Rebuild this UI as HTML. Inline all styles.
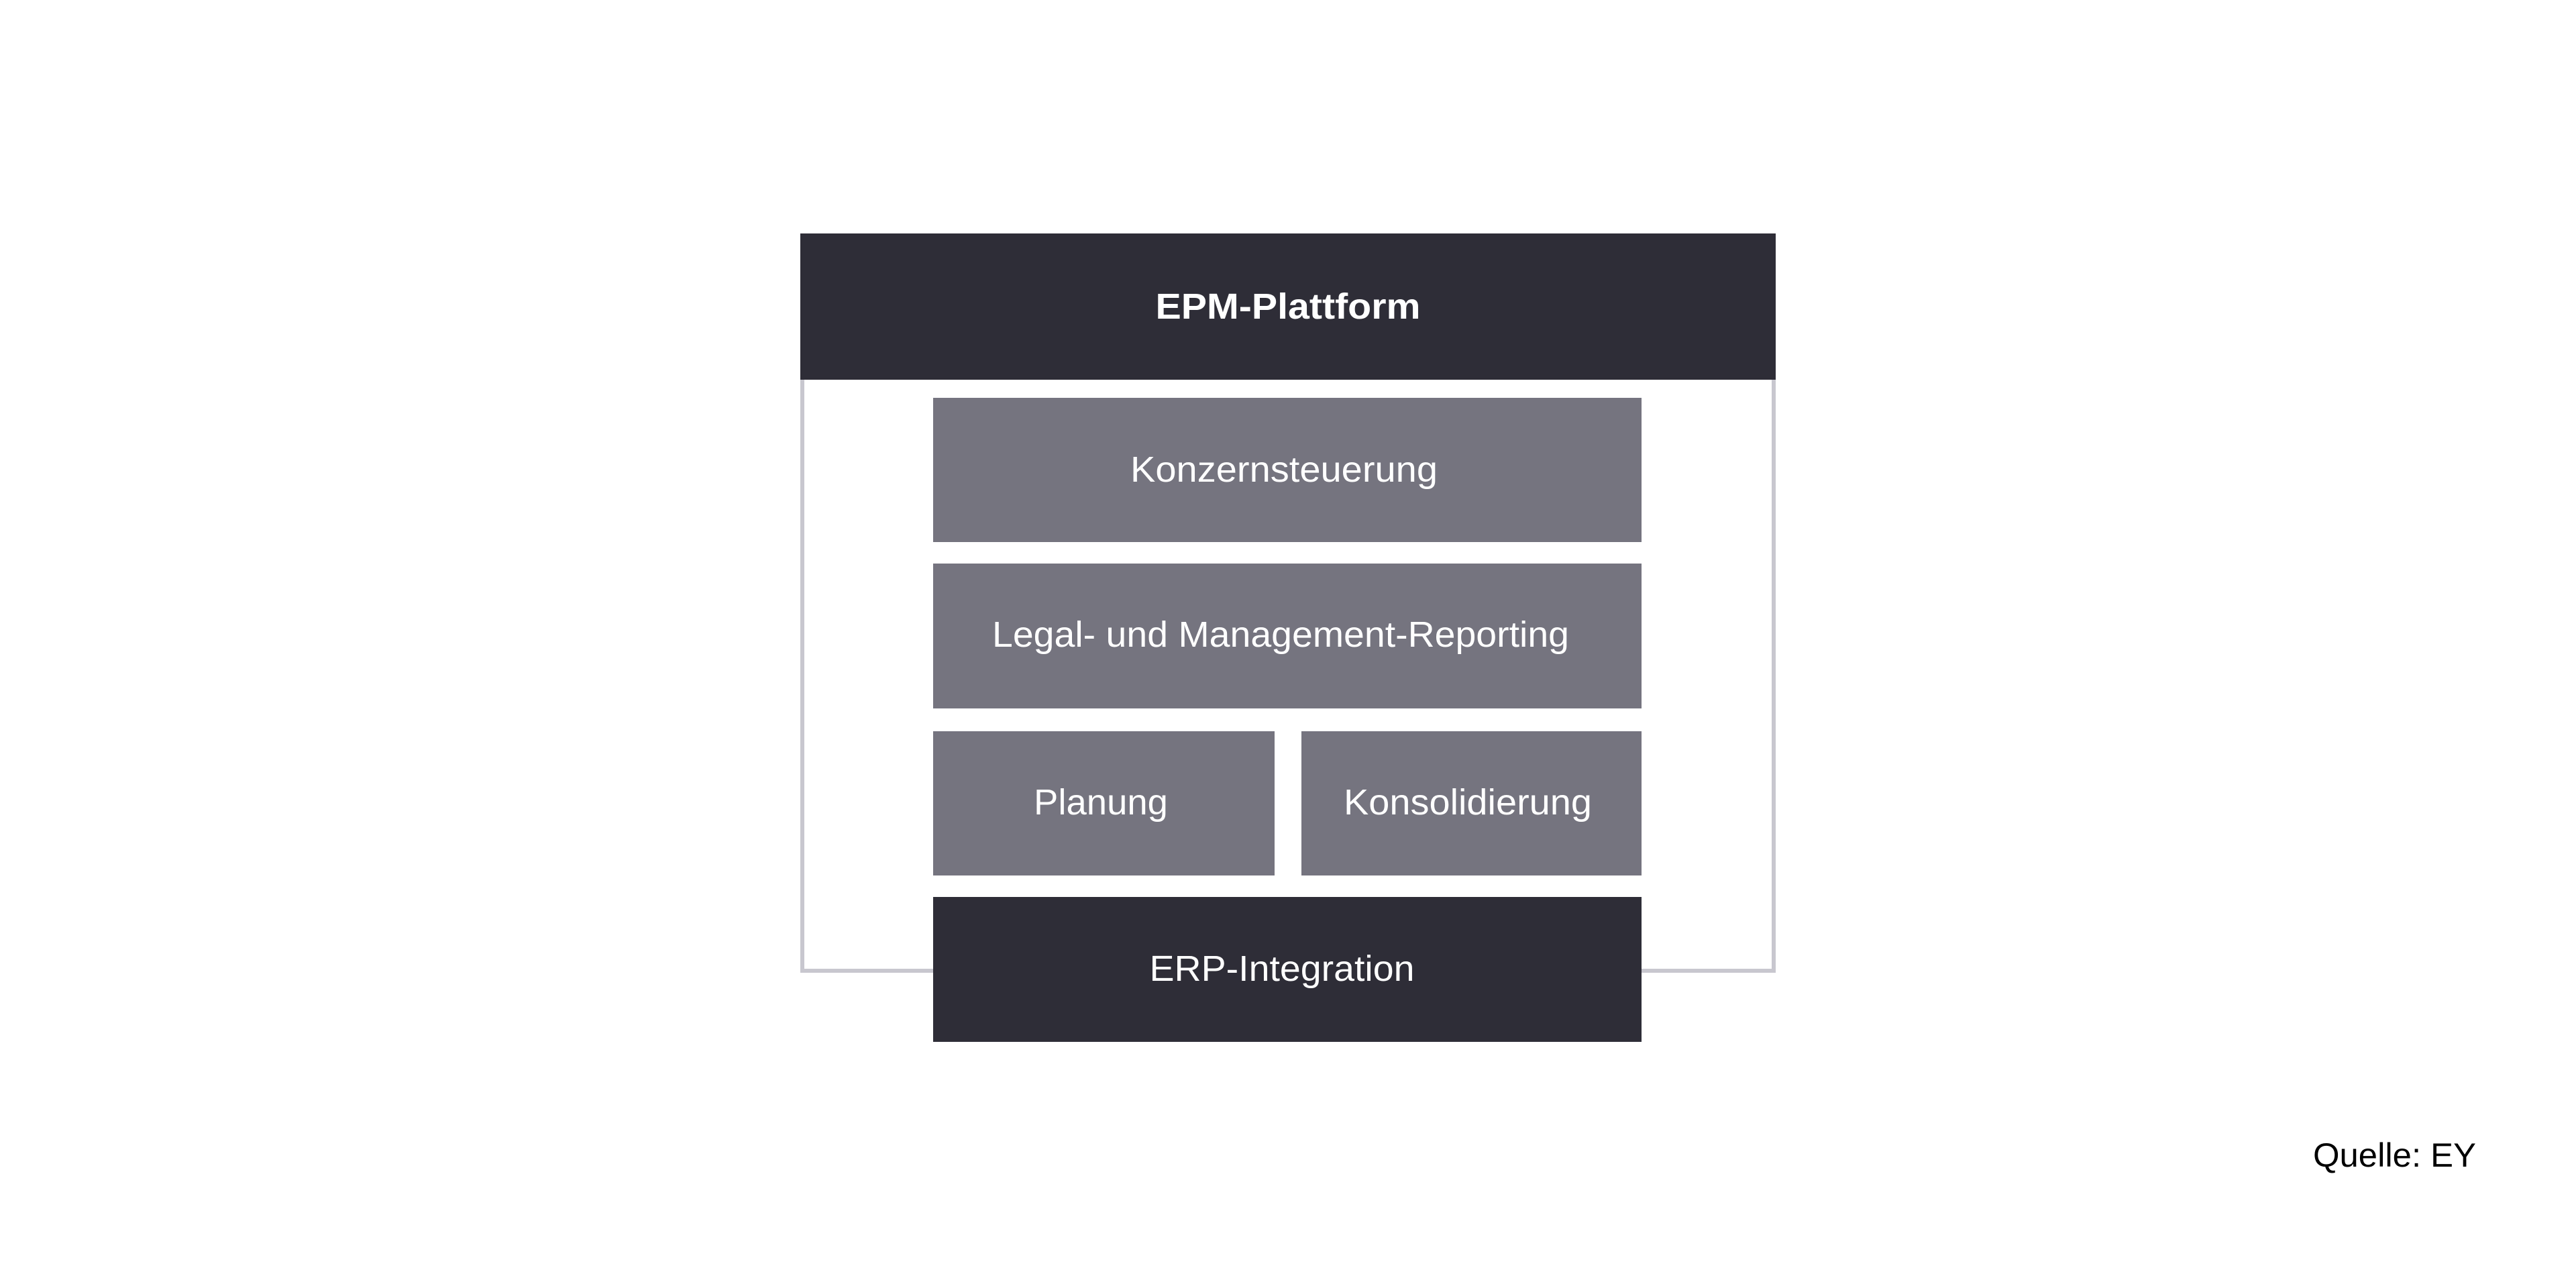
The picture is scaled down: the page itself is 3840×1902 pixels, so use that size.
<!DOCTYPE html>
<html><head><meta charset="utf-8"><style>html,body{margin:0;padding:0;background:#fff}svg{display:block}</style></head>
<body>
<svg width="3840" height="1902" viewBox="0 0 3840 1902" xmlns="http://www.w3.org/2000/svg" font-family="Liberation Sans, sans-serif">
<rect x="1196" y="540" width="1448" height="907" fill="none" stroke="#c8c7cf" stroke-width="6"/>
<rect x="1193" y="348" width="1454" height="218" fill="#2e2d37"/>
<text x="1920" y="457" fill="#fff" font-size="54" font-weight="bold" text-anchor="middle" dominant-baseline="central" textLength="395" lengthAdjust="spacingAndGlyphs">EPM-Plattform</text>
<rect x="1391" y="593" width="1056" height="215" fill="#75747f"/>
<text x="1914" y="700" fill="#fff" font-size="54" text-anchor="middle" dominant-baseline="central" textLength="458" lengthAdjust="spacingAndGlyphs">Konzernsteuerung</text>
<rect x="1391" y="840" width="1056" height="216" fill="#75747f"/>
<text x="1909" y="946" fill="#fff" font-size="54" text-anchor="middle" dominant-baseline="central" textLength="860" lengthAdjust="spacingAndGlyphs">Legal- und Management-Reporting</text>
<rect x="1391" y="1090" width="509" height="215" fill="#75747f"/>
<text x="1641" y="1196" fill="#fff" font-size="54" text-anchor="middle" dominant-baseline="central" textLength="200" lengthAdjust="spacingAndGlyphs">Planung</text>
<rect x="1940" y="1090" width="507" height="215" fill="#75747f"/>
<text x="2188" y="1196" fill="#fff" font-size="54" text-anchor="middle" dominant-baseline="central" textLength="370" lengthAdjust="spacingAndGlyphs">Konsolidierung</text>
<rect x="1391" y="1337" width="1056" height="216" fill="#2e2d37"/>
<text x="1911" y="1444" fill="#fff" font-size="54" text-anchor="middle" dominant-baseline="central" textLength="395" lengthAdjust="spacingAndGlyphs">ERP-Integration</text>
<text x="3448" y="1722" fill="#000" font-size="50" dominant-baseline="central" textLength="243" lengthAdjust="spacingAndGlyphs">Quelle: EY</text>
</svg>
</body></html>
